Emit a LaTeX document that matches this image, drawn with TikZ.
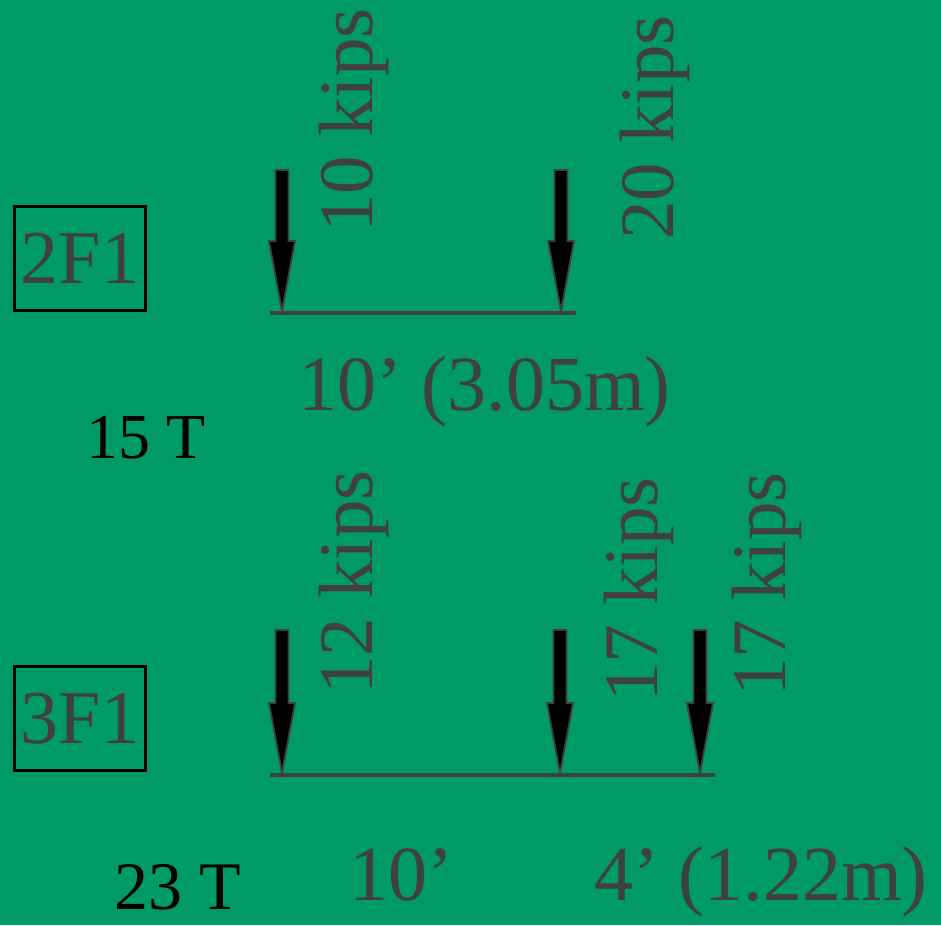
\documentclass[tikz,border=0pt]{standalone}
\usepackage{fontspec}
\setmainfont{Liberation Serif}
\usepackage{tikz}
\usetikzlibrary{calc}
\definecolor{bggreen}{RGB}{0,153,104}
\definecolor{ink}{RGB}{64,64,64}

\tikzset{
  beam/.style={draw=ink, line width=3.5pt},
  loadarrow/.style={fill=black, draw=ink, line width=1.8pt, line join=miter},
  loadlabel/.style={rotate=90, anchor=base west, inner sep=0pt, text=ink,
    font=\fontsize{77}{80}\selectfont},
  spanlabel/.style={anchor=base west, inner sep=0pt, text=ink,
    font=\fontsize{78}{80}\selectfont},
  tonlabel/.style={anchor=base west, inner sep=0pt, text=black},
  floorbox/.style={draw=black, line width=3.5pt, minimum width=131pt,
    minimum height=104pt, inner sep=0pt, text=ink,
    font=\fontsize{76}{80}\selectfont}
}

% arrow drawn from a top point down to its tip
\newcommand{\pointload}[2]{%
  \filldraw[loadarrow] ($(#1)+(-6.5,0)$) -- ($(#2)+(-6.5,-70)$)
    -- ($(#2)+(-13,-70)$) -- (#2) -- ($(#2)+(13,-70)$)
    -- ($(#2)+(6.5,-70)$) -- ($(#1)+(6.5,0)$) -- cycle;}

\begin{document}
\begin{tikzpicture}[x=1pt, y=-1pt]
  \fill[bggreen] (0,0) rectangle (941,925);
  \useasboundingbox (0,0) rectangle (941,925);

  % floor 2
  \node[floorbox] (f2) at (80,258.5) {2F1};
  \coordinate (a1) at (282,170);
  \coordinate (a1tip) at (282,311);
  \coordinate (a2) at (561,170);
  \coordinate (a2tip) at (561,311);
  \coordinate (b2l) at (270,313);
  \coordinate (b2r) at (576,313);
  \draw[beam] (b2l) -- (b2r);
  \pointload{a1}{a1tip}
  \pointload{a2}{a2tip}
  \node[loadlabel] (l1) at (372,233) {10 kips};
  \node[loadlabel] (l2) at (673,240) {20 kips};
  \node[spanlabel] (s2) at (298,410) {10’ (3.05m)};
  \node[tonlabel, font=\fontsize{64}{66}\selectfont] (t2) at (86,458) {15 T};

  % floor 3
  \node[floorbox] (f3) at (80,718.5) {3F1};
  \coordinate (c1) at (282,630);
  \coordinate (c1tip) at (282,773);
  \coordinate (c2) at (560,630);
  \coordinate (c2tip) at (560,773);
  \coordinate (c3) at (700,630);
  \coordinate (c3tip) at (700,773);
  \coordinate (b3l) at (270,775);
  \coordinate (b3r) at (715,775);
  \draw[beam] (b3l) -- (b3r);
  \pointload{c1}{c1tip}
  \pointload{c2}{c2tip}
  \pointload{c3}{c3tip}
  \node[loadlabel] (l3) at (372,695) {12 kips};
  \node[loadlabel] (l4) at (657,702) {17 kips};
  \node[loadlabel] (l5) at (785,697) {17 kips};
  \node[spanlabel] (s3a) at (349,900) {10’};
  \node[spanlabel] (s3b) at (594,900) {4’ (1.22m)};
  \node[tonlabel, font=\fontsize{68}{70}\selectfont] (t3) at (114,909) {23 T};
\end{tikzpicture}
\end{document}
